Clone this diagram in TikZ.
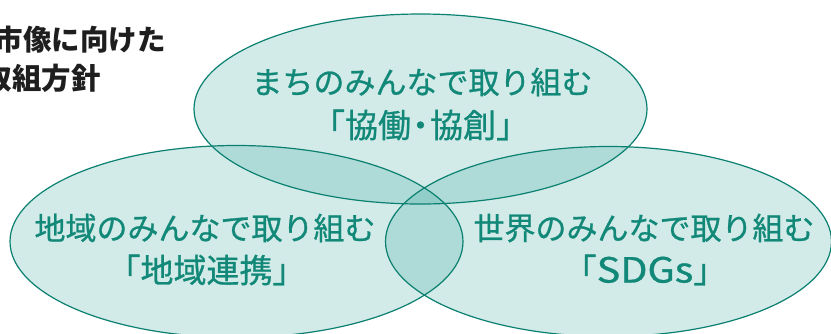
\documentclass[tikz,border=0pt]{standalone}
\usepackage{fontspec}
\newfontfamily\jp{Noto Sans CJK JP}
\newfontfamily\jpm{Noto Sans CJK JP}[FakeBold=0.8]
\definecolor{tealfill}{RGB}{30,158,148}
\definecolor{tealline}{RGB}{10,128,112}
\definecolor{tealtext}{RGB}{18,136,120}
\definecolor{darktext}{RGB}{30,30,30}
\begin{document}
\begin{tikzpicture}[x=1pt,y=-1pt,
  blob/.style={fill=tealfill,fill opacity=0.2},
  rim/.style={draw=tealline,line width=1.2pt},
  lab/.style={text=tealtext,font=\jpm\fontsize{31}{31}\selectfont,inner sep=0pt,anchor=center},
  bigl/.style={text=tealtext,font=\jpm\fontsize{33}{33}\selectfont,inner sep=0pt,anchor=center},
  head/.style={text=darktext,font=\jp\bfseries\fontsize{28.5}{28.5}\selectfont,inner sep=0pt,anchor=east}]
\useasboundingbox (0,0) rectangle (831,333);
\clip (0,0) rectangle (831,333);
\fill[white] (0,0) rectangle (831,333);
% ellipses
\path[blob] (420.5,109) ellipse [x radius=226.5, y radius=95];
\path[blob] (236.5,241.5) ellipse [x radius=226.5, y radius=96];
\path[blob] (608.5,241.5) ellipse [x radius=223, y radius=95];
\draw[rim] (420.5,109) ellipse [x radius=226.5, y radius=95];
\draw[rim] (236.5,241.5) ellipse [x radius=226.5, y radius=96];
\draw[rim] (608.5,241.5) ellipse [x radius=223, y radius=95];
% heading (cropped by the picture's edge)
\node[head] (h1) at (166,40) {市像に向けた};
\node[head,font=\jp\bfseries\fontsize{29.5}{29.5}\selectfont] (h2) at (101,78) {取組方針};
% labels
\node[lab] (t1) at (422,82) {まちのみんなで取り組む};
\node[bigl] (t2) at (420.5,125) {「協働\kern-7pt・\kern-7pt協創」};
\node[lab] (l1) at (205,228) {地域のみんなで取り組む};
\node[bigl] (l2) at (206.5,270) {「地域連携」};
\node[lab] (r1) at (644,228) {世界のみんなで取り組む};
\node[bigl] (r2) at (645,270) {「\scalebox{1.2}[1.05]{SDGs}」};
\end{tikzpicture}
\end{document}
